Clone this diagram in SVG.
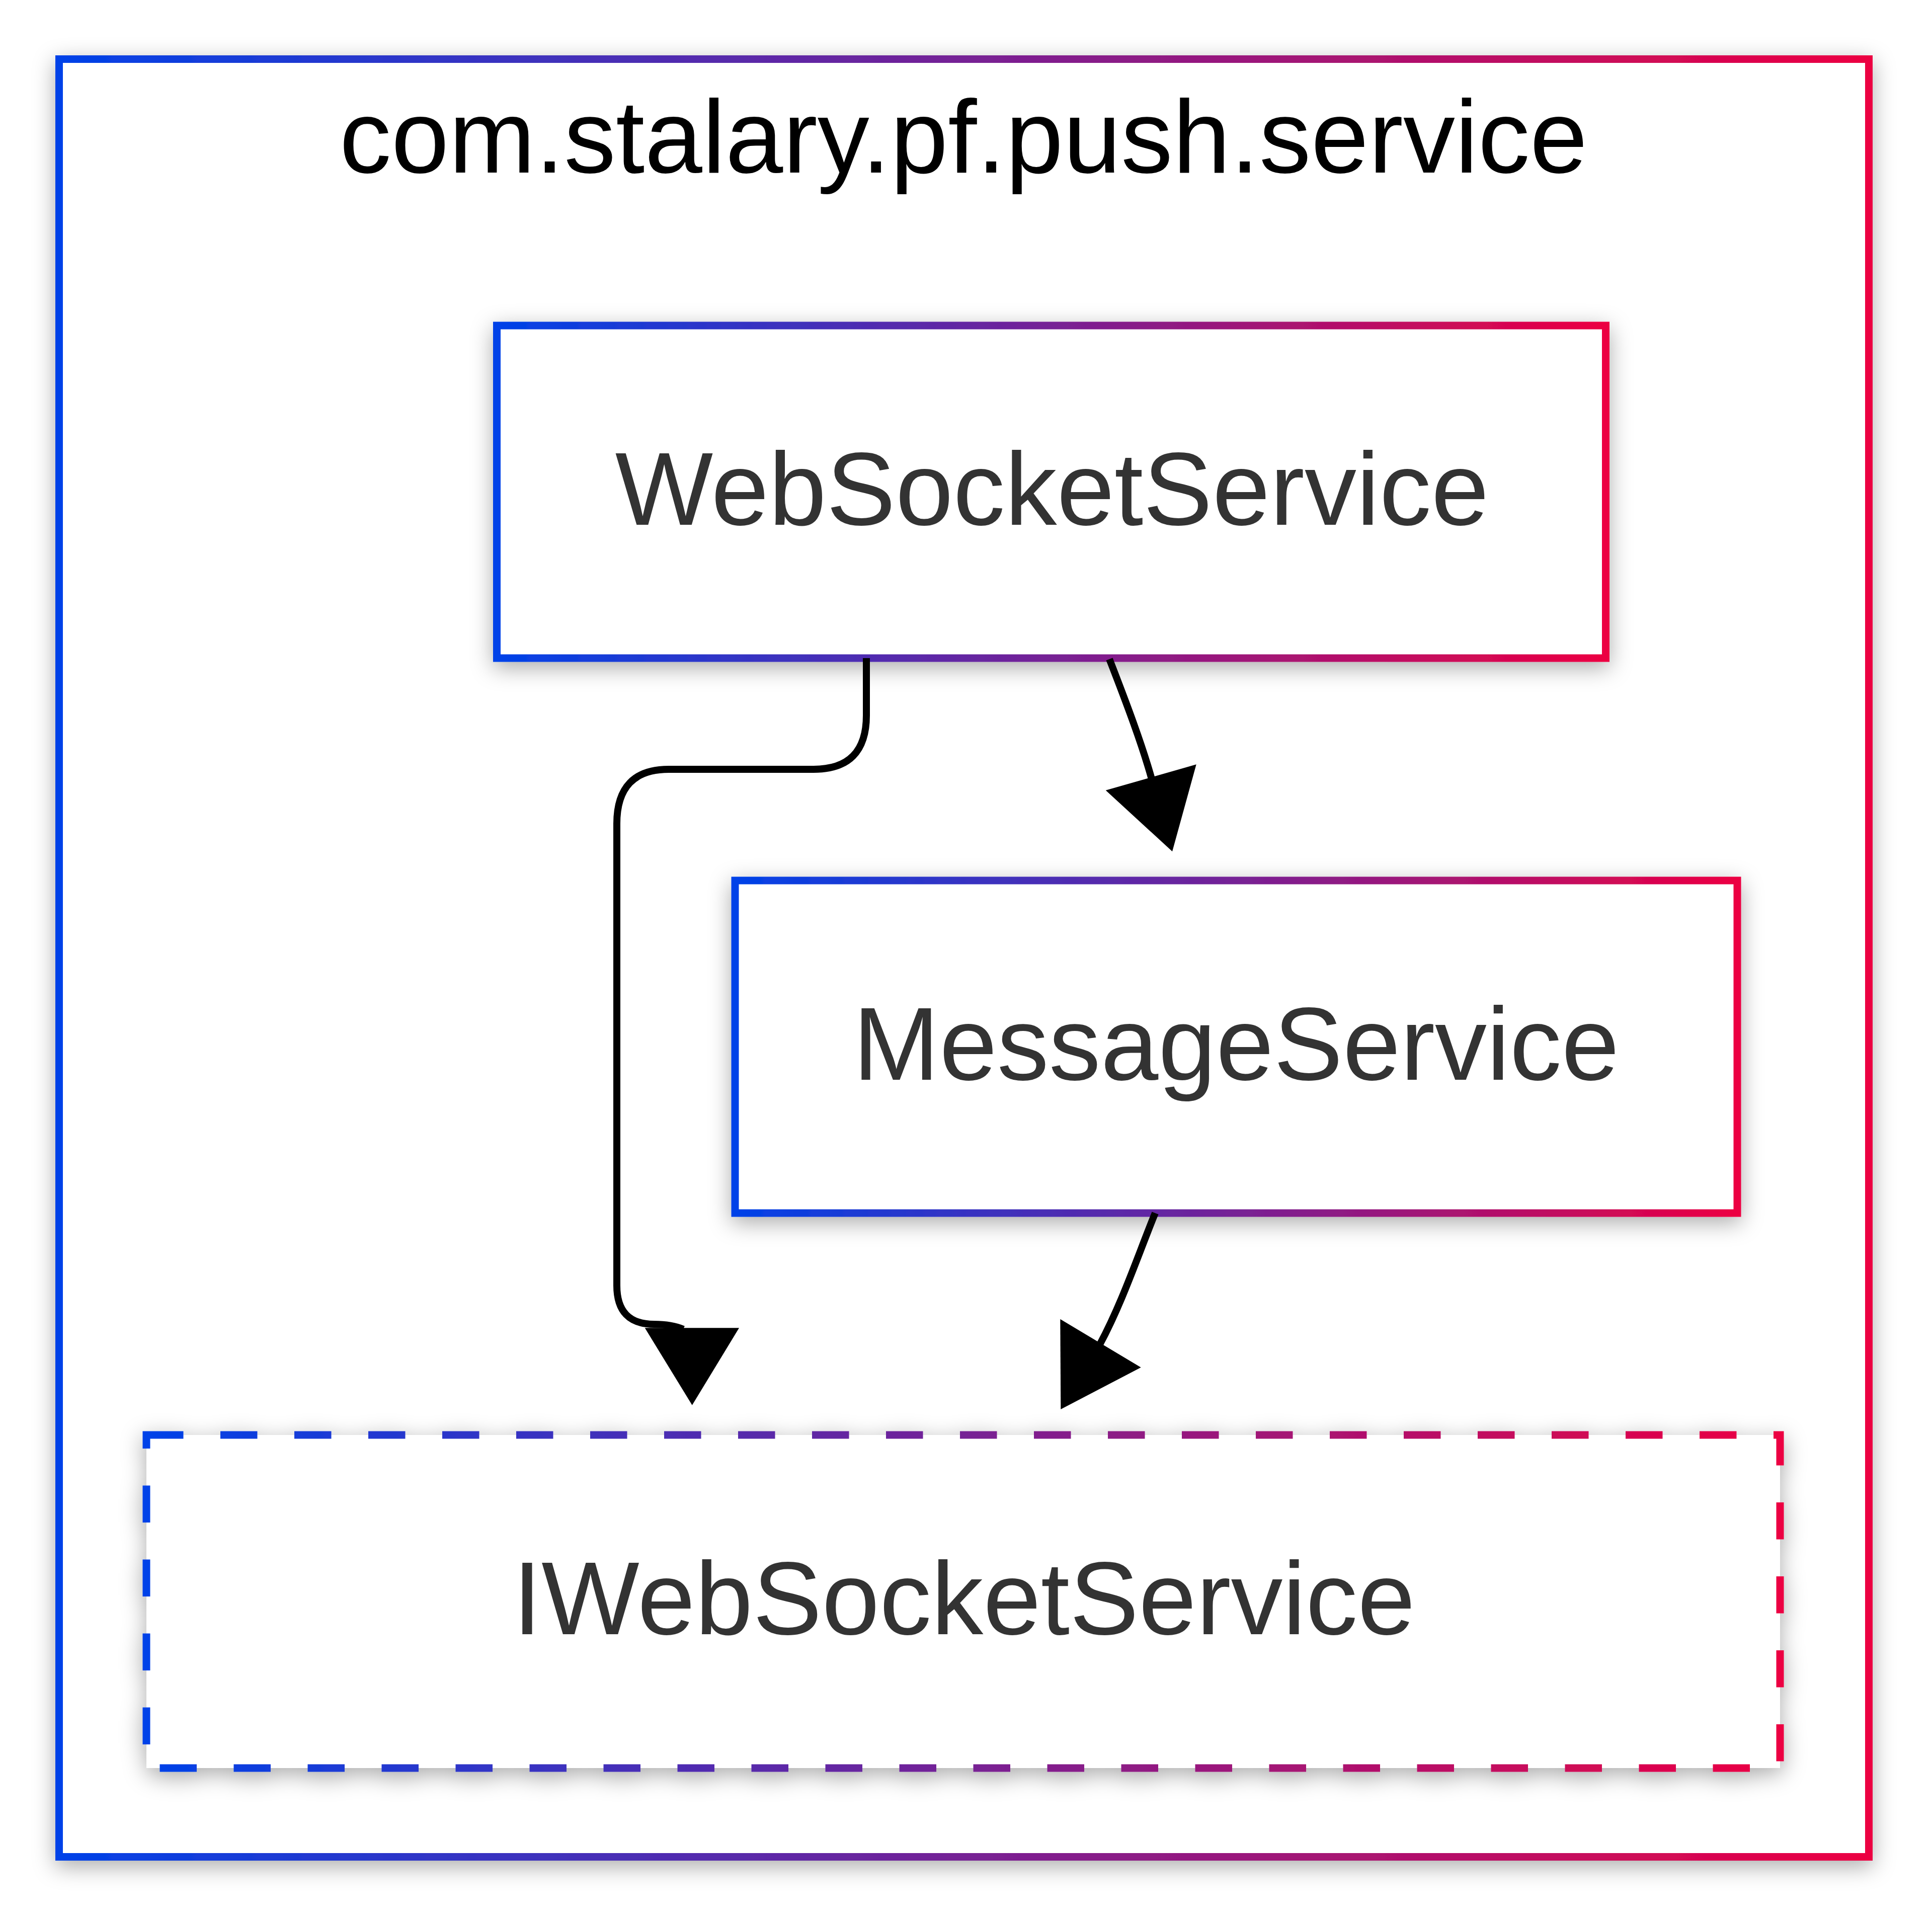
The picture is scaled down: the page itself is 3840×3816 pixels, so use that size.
<svg xmlns="http://www.w3.org/2000/svg" width="3840" height="3816" viewBox="0 0 3840 3816">
  <defs>
    <linearGradient id="grad" x1="0" y1="0" x2="1" y2="0">
      <stop offset="0" stop-color="#0042E8"/>
      <stop offset="1" stop-color="#EC0042"/>
    </linearGradient>
    <filter id="shadow" x="-10%" y="-20%" width="120%" height="140%">
      <feDropShadow dx="0" dy="12" stdDeviation="22" flood-color="#000" flood-opacity="0.33"/>
    </filter>
  </defs>
  <style>
    .box { fill: #ffffff; stroke: url(#grad); stroke-width: 15; filter: url(#shadow); }
    .dashed { stroke-dasharray: 73.5 73.5; }
    .label { font-family: "Liberation Sans", Arial, sans-serif; font-size: 206px; fill: #333333; text-anchor: middle; }
    .title { font-family: "Liberation Sans", Arial, sans-serif; font-size: 206px; fill: #000000; text-anchor: middle; }
    .edge { fill: none; stroke: #000000; stroke-width: 14; }
    .head { fill: #000000; stroke: none; }
  </style>
  <rect width="3840" height="3816" fill="#ffffff"/>
  <g id="cluster-com.stalary.pf.push.service">
    <rect class="box" x="117.5" y="117.5" width="3597" height="3573"/>
    <text class="title" x="1915" y="343">com.stalary.pf.push.service</text>
  </g>
  <g id="node-WebSocketService">
    <rect class="box" x="987.5" y="647" width="2204" height="661"/>
    <text class="label" x="2091" y="1043">WebSocketService</text>
  </g>
  <g id="node-MessageService">
    <rect class="box" x="1461" y="1750" width="1992" height="661"/>
    <text class="label" x="2457" y="2146">MessageService</text>
  </g>
  <g id="node-IWebSocketService">
    <rect class="box dashed" x="291" y="2852" width="3247" height="662"/>
    <text class="label" x="1916" y="3248">IWebSocketService</text>
  </g>
  <g id="connectors">
    <path class="edge" d="M1722,1308 L1722,1422 Q1722,1529 1617,1529 L1329,1529 Q1226,1529 1226,1637 L1226,2555 Q1226,2632 1300,2632 C1320,2632 1340,2634 1358,2642"/>
    <polygon class="head" points="1281.7,2639.3 1469,2639.3 1375.7,2792.7"/>
    <path class="edge" d="M2205,1310 C2240,1400 2270,1480 2289,1548"/>
    <polygon class="head" points="2197.7,1570.7 2377.7,1519.3 2330,1692.3"/>
    <path class="edge" d="M2296,2411 C2260,2500 2230,2590 2186,2672"/>
    <polygon class="head" points="2107.3,2621.7 2267.7,2717.7 2108.3,2801"/>
  </g>
</svg>
